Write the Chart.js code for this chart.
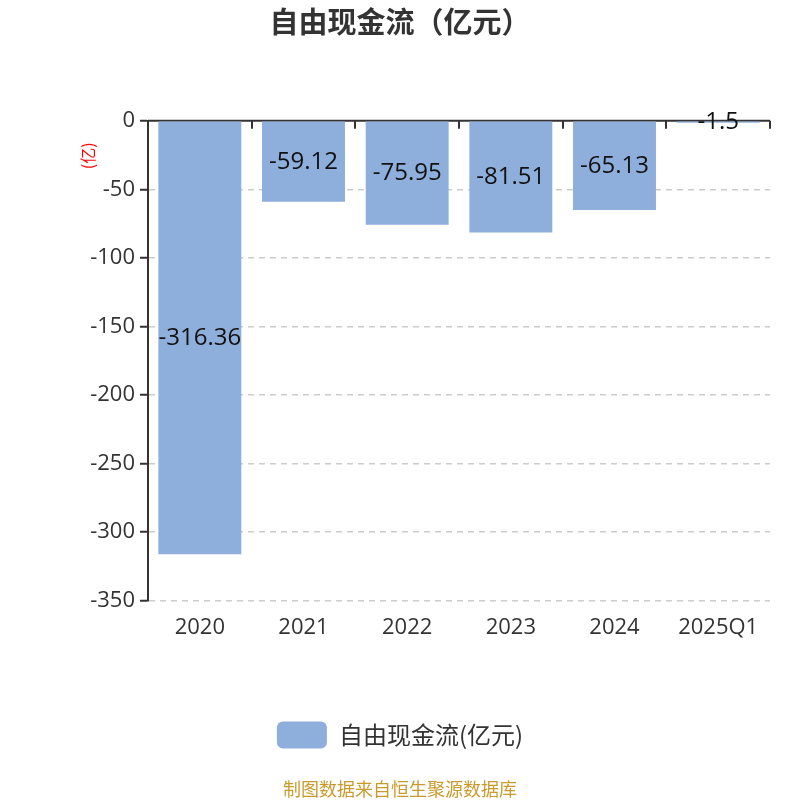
<!DOCTYPE html>
<html>
<head>
<meta charset="utf-8">
<script src="https://cdn.jsdelivr.net/npm/chart.js@4/dist/chart.umd.min.js"></script>
<style>
html,body{margin:0;padding:0;background:#fff;}
#wrap{width:800px;height:800px;position:relative;}
</style>
</head>
<body>
<div id="wrap"><canvas id="c"></canvas></div>
<script>
const categories = ['2020', '2021', '2022', '2023', '2024', '2025Q1'];
const values = [-316.36, -59.12, -75.95, -81.51, -65.13, -1.5];
const valueLabels = ['-316.36', '-59.12', '-75.95', '-81.51', '-65.13', '-1.5'];
const seriesName = '自由现金流(亿元)';
const titleText = '自由现金流（亿元）';
const footerText = '制图数据来自恒生聚源数据库';
const unitText = '(亿)';

const FONT = '"Open Sans", "Noto Sans CJK SC", sans-serif';
const CJK = '"Noto Sans CJK SC", "Open Sans", sans-serif';
const TEXT = '#333333';
const BAR = '#8eaedb';

const decorPlugin = {
  id: 'decor',
  beforeDatasetsDraw(chart) {
    const {ctx, chartArea, scales} = chart;
    const x = scales.x, y = scales.y;
    const y0 = y.getPixelForValue(0);
    ctx.save();
    ctx.strokeStyle = '#333';
    ctx.lineWidth = 2;
    ctx.beginPath();
    ctx.moveTo(chartArea.left, y0);
    ctx.lineTo(chartArea.right, y0);
    ctx.stroke();
    const half = (x.getPixelForValue(1) - x.getPixelForValue(0)) / 2;
    for (let i = 0; i < categories.length; i++) {
      const tx = Math.round(x.getPixelForValue(i) + half);
      ctx.beginPath();
      ctx.moveTo(tx, y0);
      ctx.lineTo(tx, y0 + 8);
      ctx.stroke();
    }
    ctx.restore();
    ctx.save();
    ctx.translate(chartArea.left - 60, chartArea.top + 35);
    ctx.rotate(-Math.PI / 2);
    ctx.font = '16px ' + CJK;
    ctx.fillStyle = '#ff0000';
    ctx.textAlign = 'center';
    ctx.textBaseline = 'middle';
    ctx.fillText(unitText, 0, 0);
    ctx.restore();
  },
  afterDatasetsDraw(chart) {
    const {ctx} = chart;
    const meta = chart.getDatasetMeta(0);
    ctx.save();
    ctx.font = '24px ' + FONT;
    ctx.fillStyle = '#111';
    ctx.textAlign = 'center';
    ctx.textBaseline = 'middle';
    meta.data.forEach((bar, i) => {
      const p = bar.getProps(['x', 'y', 'base'], true);
      ctx.fillText(valueLabels[i], p.x, (p.y + p.base) / 2);
    });
    ctx.restore();
  }
};

new Chart(document.getElementById('c'), {
  type: 'bar',
  data: {
    labels: categories,
    datasets: [{
      label: seriesName,
      data: values,
      backgroundColor: BAR,
      borderWidth: 0,
      categoryPercentage: 0.8,
      barPercentage: 1.0
    }]
  },
  options: {
    responsive: true,
    maintainAspectRatio: false,
    animation: false,
    layout: { padding: 0 },
    scales: {
      x: {
        position: 'bottom',
        grid: { display: false },
        border: { display: false },
        ticks: { color: TEXT, font: { size: 22, family: FONT }, padding: 6 },
        afterFit(scale) { scale.height = 111; }
      },
      y: {
        min: -350,
        max: 0,
        ticks: { stepSize: 50, color: TEXT, font: { size: 22, family: FONT }, padding: 5 },
        grid: {
          color: ctx => (ctx.tick && ctx.tick.value === 0) ? 'rgba(0,0,0,0)' : '#cccccc',
          lineWidth: 1.5,
          drawTicks: true,
          tickLength: 8,
          tickColor: '#333',
          tickWidth: 2,
          tickBorderDash: []
        },
        border: { display: true, color: '#333', width: 2, dash: [6, 5] },
        afterFit(scale) { scale.width = 148; }
      },
      yR: {
        position: 'right',
        display: true,
        min: -350,
        max: 0,
        ticks: { display: false },
        grid: { display: false, drawTicks: false },
        border: { display: false },
        afterFit(scale) { scale.width = 30; }
      }
    },
    plugins: {
      title: {
        display: true,
        text: titleText,
        color: TEXT,
        font: { size: 29, weight: 'bold', family: CJK },
        padding: { top: 5, bottom: 81 }
      },
      legend: {
        display: true,
        position: 'bottom',
        labels: {
          color: TEXT,
          font: { size: 24, family: CJK },
          boxWidth: 50,
          boxHeight: 27,
          useBorderRadius: true,
          borderRadius: 6,
          padding: 10
        }
      },
      subtitle: {
        display: true,
        text: footerText,
        position: 'bottom',
        color: '#c99a2e',
        font: { size: 18, family: CJK },
        padding: { top: 20, bottom: 0 }
      },
      tooltip: { enabled: false }
    }
  },
  plugins: [decorPlugin]
});
</script>
</body>
</html>
